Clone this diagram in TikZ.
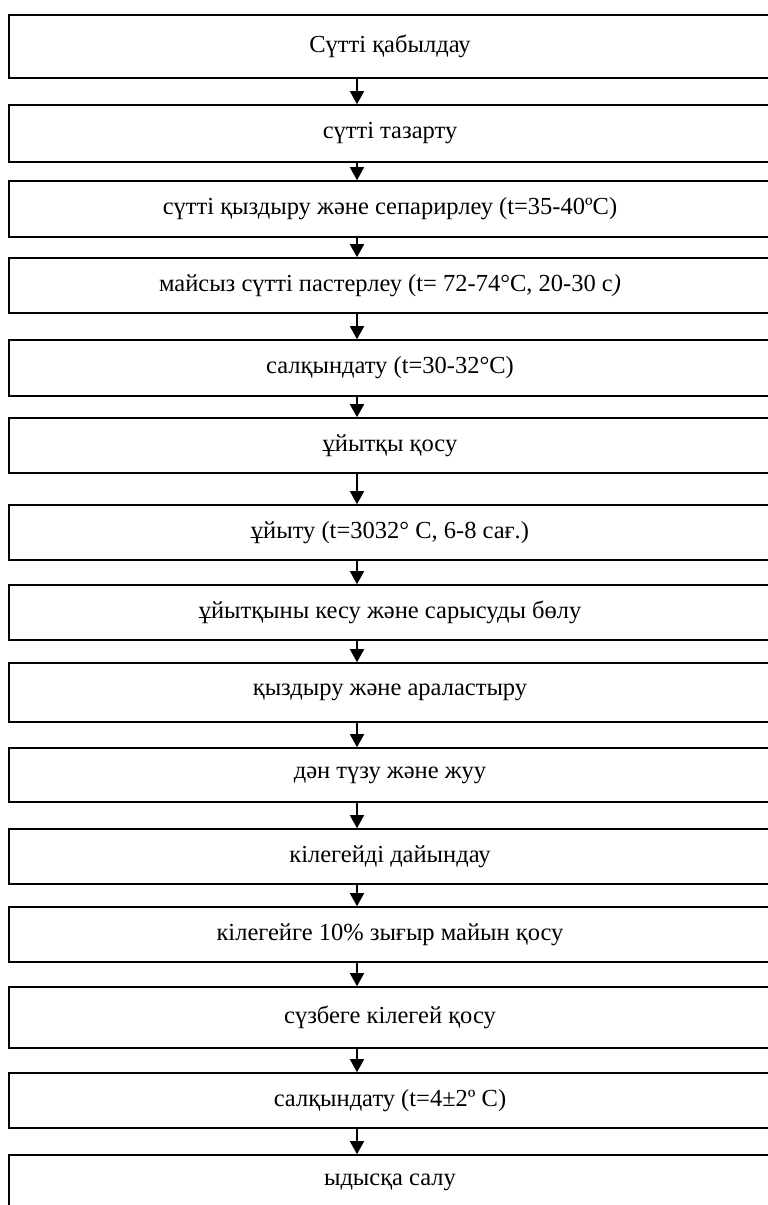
\documentclass[tikz,border=0pt]{standalone}
\usepackage{fontspec}
\setmainfont{Liberation Serif}
\usetikzlibrary{arrows.meta}

\tikzset{
  stage/.style={draw, line width=1.6pt, rectangle, minimum width=762pt, inner sep=0pt,
    font=\fontsize{24.5}{27}\selectfont},
  flow/.style={-{Triangle[length=13pt,width=14pt]}, line width=1.6pt}
}

\begin{document}
\begin{tikzpicture}[x=1pt,y=-1pt]
        \useasboundingbox (0,0) rectangle (768,1205);
        \coordinate (ax) at (357,0);
        % stages
        \node[stage, minimum height=63pt] (b1) at (390,46.5) {Сүтті қабылдау};
        \node[stage, minimum height=57pt] (b2) at (390,133.5) {сүтті тазарту};
        \node[stage, minimum height=56pt] (b3) at (390,209) {сүтті қыздыру және сепарирлеу (t=35-40ºC)};
        \node[stage, minimum height=55pt] (b4) at (390,285.5) {майсыз сүтті пастерлеу (t= 72-74°C, 20-30 с\textit{)}};
        \node[stage, minimum height=56pt] (b5) at (390,368) {салқындату (t=30-32°C)};
        \node[stage, minimum height=55pt] (b6) at (390,445.5) {ұйытқы қосу};
        \node[stage, minimum height=55pt] (b7) at (390,532.5) {ұйыту (t=3032° С, 6-8 сағ.)};
        \node[stage, minimum height=55pt] (b8) at (390,612.5) {ұйытқыны кесу және сарысуды бөлу};
        \node[stage, minimum height=59pt] (b9) at (390,692.5) {қыздыру және араластыру};
        \node[stage, minimum height=54pt] (b10) at (390,775) {дән түзу және жуу};
        \node[stage, minimum height=55pt] (b11) at (390,856.5) {кілегейді дайындау};
        \node[stage, minimum height=55pt] (b12) at (390,934.5) {кілегейге 10\% зығыр майын қосу};
        \node[stage, minimum height=61pt] (b13) at (390,1017.5) {сүзбеге кілегей қосу};
        \node[stage, minimum height=55pt] (b14) at (390,1100.5) {салқындату (t=4±2º С)};
        \node[stage, minimum height=55pt] (b15) at (390,1182.5) {ыдысқа салу};
        % arrows
        \draw[flow] (b1.south -| ax) -- (b2.north -| ax);
        \draw[flow] (b2.south -| ax) -- (b3.north -| ax);
        \draw[flow] (b3.south -| ax) -- (b4.north -| ax);
        \draw[flow] (b4.south -| ax) -- (b5.north -| ax);
        \draw[flow] (b5.south -| ax) -- (b6.north -| ax);
        \draw[flow] (b6.south -| ax) -- (b7.north -| ax);
        \draw[flow] (b7.south -| ax) -- (b8.north -| ax);
        \draw[flow] (b8.south -| ax) -- (b9.north -| ax);
        \draw[flow] (b9.south -| ax) -- (b10.north -| ax);
        \draw[flow] (b10.south -| ax) -- (b11.north -| ax);
        \draw[flow] (b11.south -| ax) -- (b12.north -| ax);
        \draw[flow] (b12.south -| ax) -- (b13.north -| ax);
        \draw[flow] (b13.south -| ax) -- (b14.north -| ax);
        \draw[flow] (b14.south -| ax) -- (b15.north -| ax);
    \end{tikzpicture}
\end{document}
